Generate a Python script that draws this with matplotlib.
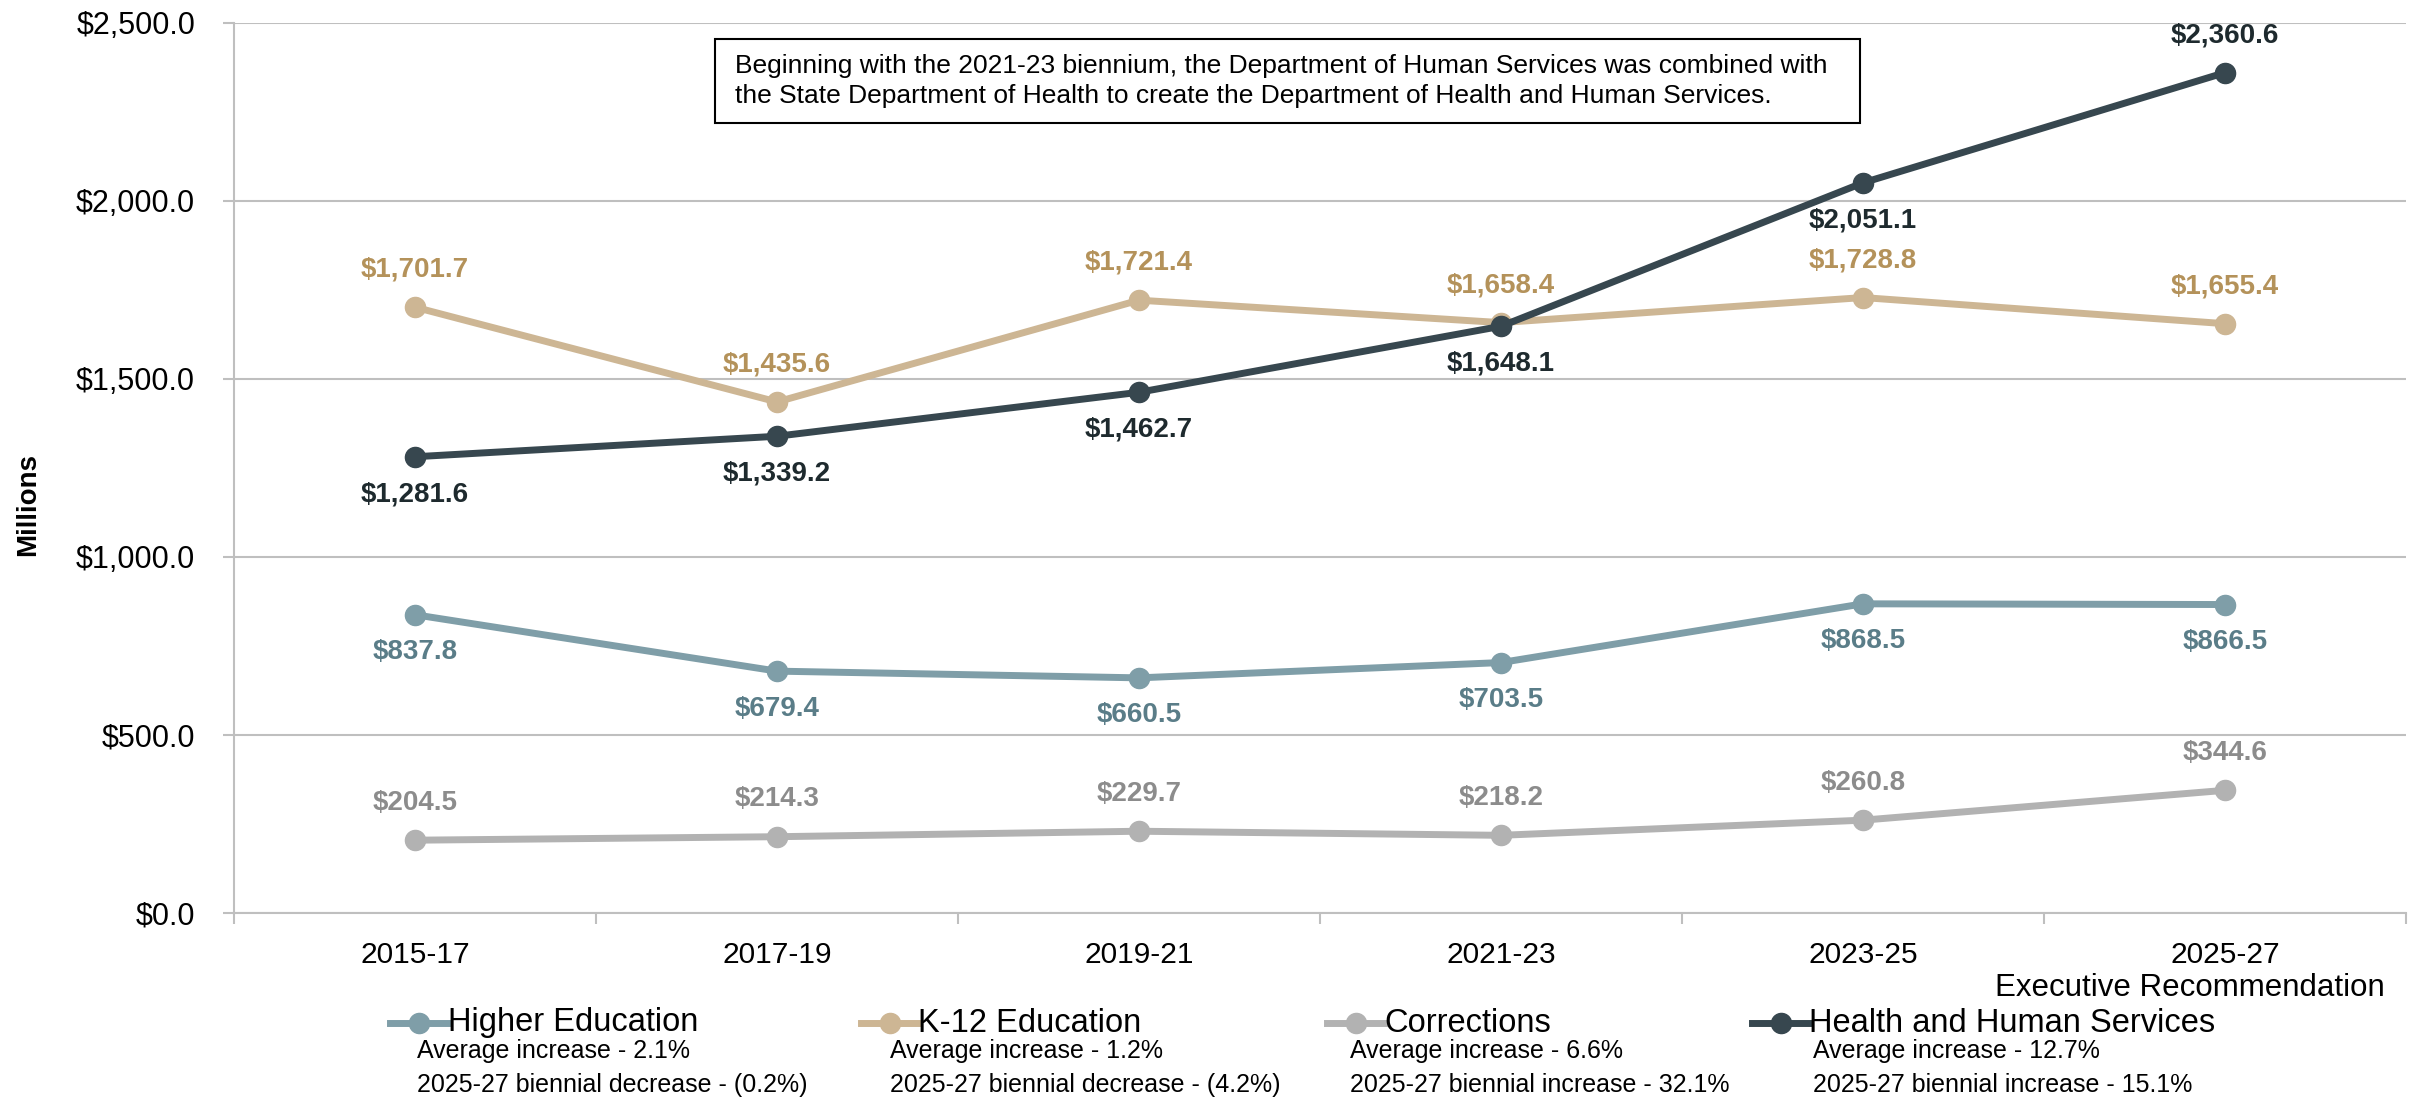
import matplotlib
matplotlib.use("Agg")
import matplotlib.pyplot as plt
from matplotlib.lines import Line2D
from matplotlib.patches import Rectangle
from matplotlib.ticker import FuncFormatter, FixedLocator

plt.rcParams['font.family'] = ['Liberation Sans', 'DejaVu Sans']

# Data (millions)
bienniums = ['2015-17', '2017-19', '2019-21', '2021-23', '2023-25', '2025-27']
higher_ed = [837.8, 679.4, 660.5, 703.5, 868.5, 866.5]
k12 = [1701.7, 1435.6, 1721.4, 1658.4, 1728.8, 1655.4]
corrections = [204.5, 214.3, 229.7, 218.2, 260.8, 344.6]
hhs = [1281.6, 1339.2, 1462.7, 1648.1, 2051.1, 2360.6]

series_names = ['Higher Education', 'K-12 Education', 'Corrections', 'Health and Human Services']
avg_lines = ['Average increase - 2.1%', 'Average increase - 1.2%',
             'Average increase - 6.6%', 'Average increase - 12.7%']
biennial_lines = ['2025-27 biennial decrease - (0.2%)', '2025-27 biennial decrease - (4.2%)',
                  '2025-27 biennial increase - 32.1%', '2025-27 biennial increase - 15.1%']

line_colors = ['#7f9ea8', '#cdb694', '#b2b2b2', '#37474f']
label_colors = ['#5a7d88', '#b4925a', '#8c8c8c', '#1e2a2e']
# +1 label above point, -1 below
label_side = [
    [-1, -1, -1, -1, -1, -1],
    [1, 1, 1, 1, 1, 1],
    [1, 1, 1, 1, 1, 1],
    [-1, -1, -1, -1, -1, 1],
]

W, H = 2420, 1099
fig = plt.figure(figsize=(W / 100, H / 100), dpi=100)
ax = fig.add_axes([234 / W, 1 - 913 / H, (2406 - 234) / W, (913 - 23) / H])

x = list(range(len(bienniums)))
all_series = [higher_ed, k12, corrections, hhs]
for vals, lc, tc, sides in zip(all_series, line_colors, label_colors, label_side):
    ax.plot(x, vals, color=lc, lw=5, marker='o', markersize=14.5, zorder=3)
    for xi, v, s in zip(x, vals, sides):
        ax.annotate(f'${v:,.1f}', (xi, v), xytext=(0, 27 * s), textcoords='offset points',
                    ha='center', va='center', fontsize=20, fontweight='bold', color=tc,
                    zorder=4)

ax.set_xlim(-0.5, 5.5)
ax.set_ylim(0, 2500)
ax.set_yticks([0, 500, 1000, 1500, 2000, 2500])
ax.yaxis.set_major_formatter(FuncFormatter(lambda v, p: f'${v:,.1f}'))
ax.grid(axis='y', color='#bfbfbf', lw=1.5)
ax.set_axisbelow(True)

ax.set_xticks(x)
ax.set_xticklabels(bienniums)
ax.xaxis.set_minor_locator(FixedLocator([i - 0.5 for i in range(len(bienniums) + 1)]))
ax.tick_params(axis='x', which='major', length=0, pad=20, labelsize=21.5)
ax.tick_params(axis='x', which='minor', length=8, width=1.5, color='#bfbfbf')
ax.tick_params(axis='y', length=8, width=1.5, color='#bfbfbf', pad=20, labelsize=22)

for side in ['top', 'right']:
    ax.spines[side].set_visible(False)
for side in ['left', 'bottom']:
    ax.spines[side].set_color('#bfbfbf')
    ax.spines[side].set_linewidth(1.5)

fig.text(28 / W, 1 - 505 / H, 'Millions', rotation=90, ha='center', va='center',
         fontsize=20, fontweight='bold')
fig.text(2190 / W, 1 - 988 / H, 'Executive Recommendation', ha='center', va='center',
         fontsize=22.5)

# Note box
fig.patches.append(Rectangle((715 / W, 1 - 123 / H), (1860 - 715) / W, (123 - 39) / H,
                             transform=fig.transFigure, facecolor='white',
                             edgecolor='black', lw=1.5, zorder=5))
fig.text(735 / W, 1 - 66 / H,
         'Beginning with the 2021-23 biennium, the Department of Human Services was combined with',
         ha='left', va='center', fontsize=19, zorder=6)
fig.text(735 / W, 1 - 96 / H,
         'the State Department of Health to create the Department of Health and Human Services.',
         ha='left', va='center', fontsize=19, zorder=6)

# Legend
handle_x = [(390, 448), (861, 918), (1327, 1384), (1752, 1809)]
sub_x = [417, 890, 1350, 1813]
name_y = 1 - 1023 / H
for (x0, x1), sx, name, l1, l2, lc in zip(handle_x, sub_x, series_names, avg_lines,
                                          biennial_lines, line_colors):
    fig.add_artist(Line2D([x0 / W, x1 / W], [name_y, name_y], transform=fig.transFigure,
                          color=lc, lw=5))
    fig.add_artist(Line2D([(x0 + x1) / 2 / W], [name_y], transform=fig.transFigure,
                          color=lc, marker='o', markersize=14.5, lw=0))
    fig.text(x1 / W, name_y, name, ha='left', va='center', fontsize=23.5)
    fig.text(sx / W, 1 - 1051 / H, l1, ha='left', va='center', fontsize=18)
    fig.text(sx / W, 1 - 1085 / H, l2, ha='left', va='center', fontsize=18)

fig.savefig('out.png', dpi=100)
